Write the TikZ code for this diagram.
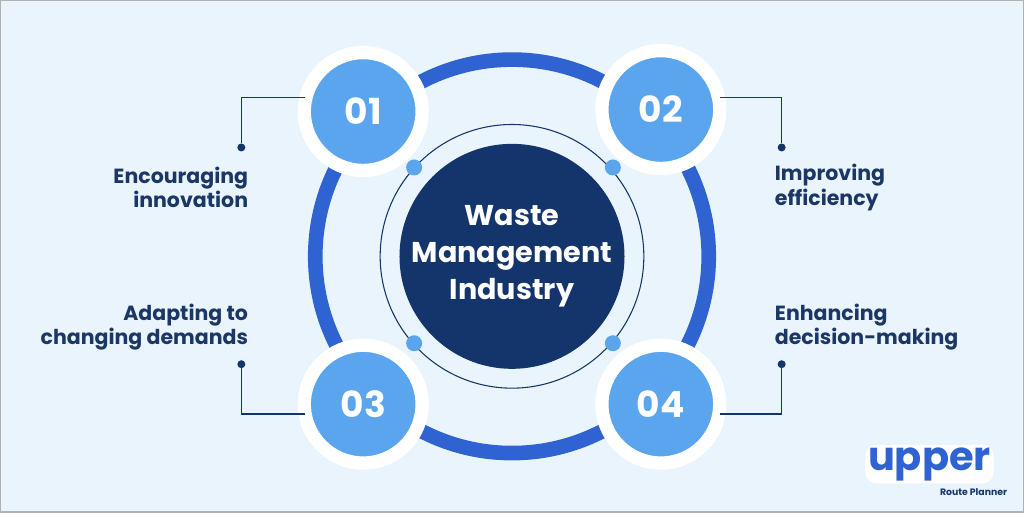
\documentclass[tikz,border=0pt]{standalone}
\usepackage{fontspec}
\setmainfont{Poppins}
\definecolor{bg}{HTML}{EAF4FD}
\definecolor{ring}{HTML}{2F63D2}
\definecolor{num}{HTML}{5AA5EE}
\definecolor{dark}{HTML}{14356B}
\definecolor{txt}{HTML}{1B3766}
\begin{document}
\begin{tikzpicture}[x=0.75pt,y=-0.75pt,
  lbl/.style={font=\fontsize{15.4}{18.5}\selectfont\bfseries,text=txt,align=left,inner sep=0},
  numc/.style={circle,fill=num,draw=white,line width=10pt,minimum size=118*0.75pt,text=white,font=\fontsize{27}{30}\selectfont\bfseries},
  dotc/.style={circle,fill=num,minimum size=12pt,inner sep=0},
  conn/.style={draw=dark,line width=1.2pt},
  endd/.style={circle,fill=dark,minimum size=6pt,inner sep=0}]
\fill[bg,draw=gray!60,line width=1pt] (0,0) rectangle (1024,512);
\useasboundingbox (0,0) rectangle (1024,512);
\draw[ring,line width=11pt] (512,256) circle[radius=197*0.75pt];
\draw[dark,line width=0.8pt] (512,256) circle[radius=132*0.75pt];
\node[circle,fill=dark,minimum size=200*0.75pt,inner sep=0,text=white,align=center,
  font=\fontsize{21.5}{28}\selectfont\bfseries] (c) at (512,256) {Waste\\Management\\Industry};
\foreach \p/\n in {{(414,167)}/d1,{(613,167)}/d2,{(414,343)}/d3,{(613,343)}/d4}
  \node[dotc] (\n) at \p {};
\coordinate (k1) at (241,97); \node[endd] (e1) at (241,147) {};
\coordinate (k2) at (782,97); \node[endd] (e2) at (782,147) {};
\coordinate (k3) at (241,414); \node[endd] (e3) at (241,364) {};
\coordinate (k4) at (782,414); \node[endd] (e4) at (782,364) {};
\node[numc] (n1) at (363,111) {01};
\node[numc] (n2) at (661,109) {02};
\node[numc] (n3) at (363,404) {03};
\node[numc] (n4) at (661,404) {04};
\draw[conn] (305,97) -- (k1) -- (e1);
\draw[conn] (720,97) -- (k2) -- (e2);
\draw[conn] (305,414) -- (k3) -- (e3);
\draw[conn] (720,414) -- (k4) -- (e4);
\node[lbl,align=right,anchor=east] (t1) at (248,187) {Encouraging\\innovation};
\node[lbl,anchor=west] (t2) at (775,187) {Improving\\efficiency};
\node[lbl,align=right,anchor=east] (t3) at (248,327) {Adapting to\\changing demands};
\node[lbl,anchor=west] (t4) at (775,327) {Enhancing\\decision-making};
\node[font=\fontsize{30}{30}\selectfont\bfseries,text=ring,fill=white,rounded corners=8pt,inner sep=2pt] (logo) at (930,464) {upper};
\node[font=\fontsize{7}{9}\selectfont\bfseries,text=dark,anchor=north east,inner sep=0] (rp) at (1008,488) {Route Planner};
\end{tikzpicture}
\end{document}
